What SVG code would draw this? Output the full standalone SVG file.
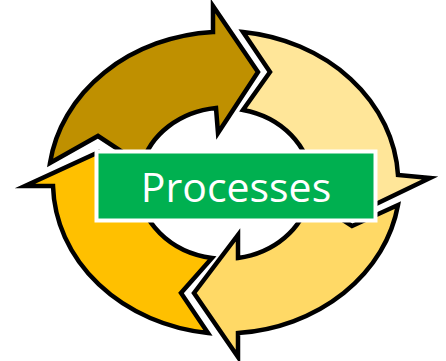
<svg xmlns="http://www.w3.org/2000/svg" width="446" height="361" viewBox="0 0 446 361">
  <style>
    .arrow { stroke: #000000; stroke-width: 4.5; stroke-linejoin: miter; stroke-miterlimit: 10; }
    .label { font-family: "Open Sans", "Liberation Sans", sans-serif; font-size: 41px; fill: #FFFFFF; }
  </style>
  <rect x="0" y="0" width="446" height="361" fill="#FFFFFF"/>
  <g id="connectors">
    <g id="arrow-top-left">
      <path class="arrow" fill="#BF9000" d="M 50,163 A 176,152 0 0 1 213,32 L 213,6 L 258,72 L 218,133 L 216,108 A 86,74 0 0 0 142,165 L 98,136 Z"/>
    </g>
    <g id="arrow-top-right">
      <path class="arrow" fill="#FFE699" d="M 243,32 A 176,152 0 0 1 398,175 L 430,178 L 351,216 L 282,181 L 311,180 A 86,74 0 0 0 243,110 L 270,72 Z"/>
    </g>
    <g id="arrow-bottom-right">
      <path class="arrow" fill="#FFD966" d="M 398,205 A 176,152 0 0 1 238,333 L 238,357 L 194,293 L 238,235 L 238,258 A 86,74 0 0 0 309,198 L 352,226 Z"/>
    </g>
    <g id="arrow-bottom-left">
      <path class="arrow" fill="#FFC000" d="M 208,333 A 176,152 0 0 1 53,186 L 25,186 L 99,152 L 168,184 L 139,185 A 86,74 0 0 0 212,258 L 181,293 Z"/>
    </g>
  </g>
  <g id="node-processes">
    <rect x="96.5" y="151.5" width="279" height="69" fill="#00B050" stroke="#FFFFFF" stroke-width="4"/>
    <text class="label" x="236" y="202" text-anchor="middle">Processes</text>
  </g>
</svg>
